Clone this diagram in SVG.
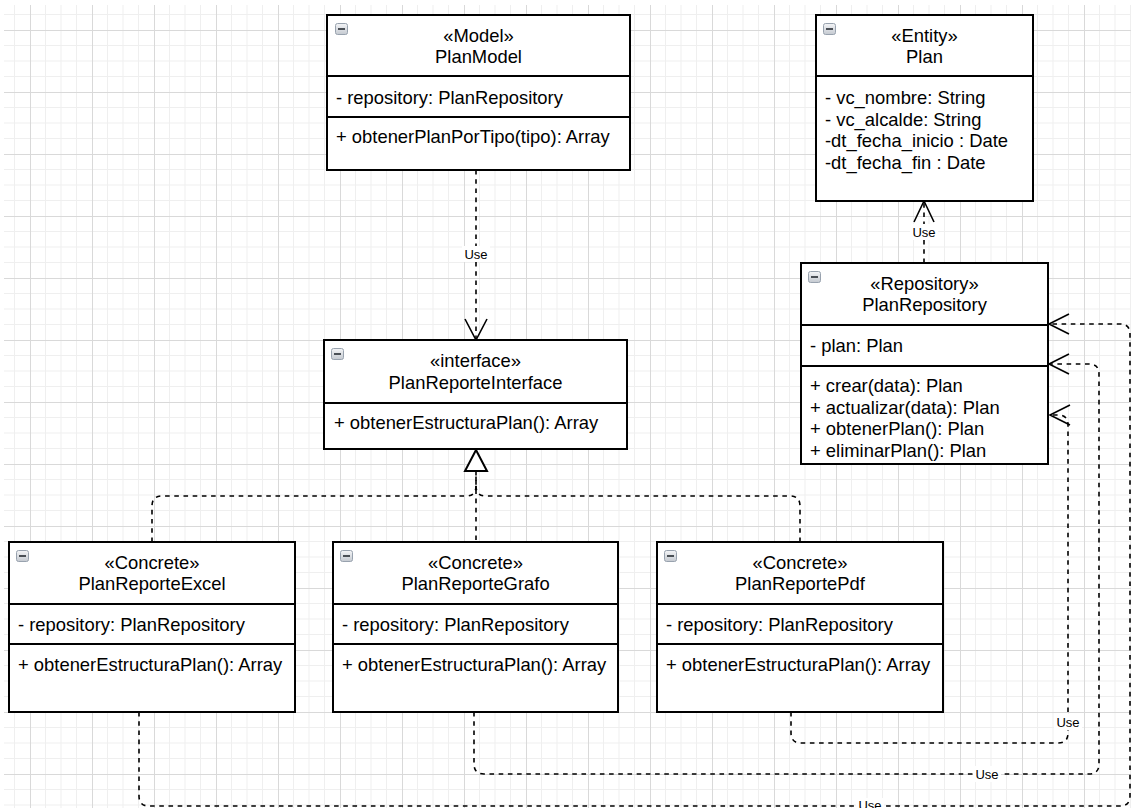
<svg xmlns="http://www.w3.org/2000/svg" width="1131" height="808" viewBox="0 0 1131 808">
  <style>
    .box { fill: #ffffff; stroke: #000000; stroke-width: 2; }
    .sep { stroke: #000000; stroke-width: 2; }
    .t { font-family: "Liberation Sans", Arial, sans-serif; font-size: 18.4px; fill: #000000; }
    .c { text-anchor: middle; }
    .lbl { font-family: "Liberation Sans", Arial, sans-serif; font-size: 13px; fill: #000000; text-anchor: middle; }
    .dash { fill: none; stroke: #000000; stroke-width: 1.6; stroke-dasharray: 4.6 4.6; }
    .head { fill: none; stroke: #000000; stroke-width: 1.6; }
    .tri { fill: #ffffff; stroke: #000000; stroke-width: 2; stroke-linejoin: miter; }
    .lblbg { fill: #ffffff; }
    .minor { stroke: #efefef; stroke-width: 1; }
    .major { stroke: #d9d9d9; stroke-width: 1; }
  </style>
  <defs>
    <pattern id="grid" x="30" y="30" width="62" height="62" patternUnits="userSpaceOnUse">
      <path class="minor" d="M15.5,0V62M31,0V62M46.5,0V62M0,15.5H62M0,31H62M0,46.5H62"/>
      <path class="major" d="M0.5,0V62M0,0.5H62"/>
    </pattern>
    <linearGradient id="btn" x1="0" y1="0" x2="0" y2="1">
      <stop offset="0" stop-color="#f4f5f7"/>
      <stop offset="1" stop-color="#c4c9d0"/>
    </linearGradient>
    <g id="collapse">
      <rect x="0.5" y="0.5" width="12" height="11" rx="2" fill="url(#btn)" stroke="#98a2ae" stroke-width="1"/>
      <path d="M3,6H10" stroke="#4a4f55" stroke-width="2"/>
    </g>
  </defs>

  <!-- canvas grid -->
  <rect x="0" y="0" width="1131" height="808" fill="#ffffff"/>
  <rect x="4" y="5" width="1127" height="803" fill="url(#grid)"/>

  <!-- connectors -->
  <g id="connectors">
    <!-- PlanModel uses PlanReporteInterface -->
    <path class="dash" d="M476,170V339"/>
    <path class="head" d="M465,319L476,340L487,319"/>
    <rect class="lblbg" x="462" y="246" width="28" height="16"/>
    <text class="lbl" x="476" y="259">Use</text>

    <!-- PlanRepository uses Plan -->
    <path class="dash" d="M924,263V202"/>
    <path class="head" d="M914,222L924,201L934,222"/>
    <rect class="lblbg" x="910" y="224" width="28" height="16"/>
    <text class="lbl" x="924" y="237">Use</text>

    <!-- realizations of PlanReporteInterface -->
    <path class="dash" d="M476,471V542"/>
    <path class="dash" d="M152,542V506Q152,496 162,496H466Q476,496 476,486V471"/>
    <path class="dash" d="M800,542V506Q800,496 790,496H486Q476,496 476,486"/>
    <path class="tri" d="M476,450L465,471H487Z"/>

    <!-- PlanReportePdf uses PlanRepository -->
    <path class="dash" d="M791,712V733Q791,743 801,743H1058Q1068,743 1068,733V425Q1068,415 1058,415H1051"/>
    <path class="head" d="M1070,405L1050,415L1070,425"/>
    <rect class="lblbg" x="1054" y="714" width="28" height="16"/>
    <text class="lbl" x="1068" y="727">Use</text>

    <!-- PlanReporteGrafo uses PlanRepository -->
    <path class="dash" d="M474,712V764Q474,774 484,774H1089Q1099,774 1099,764V374Q1099,364 1089,364H1050"/>
    <path class="head" d="M1069,354L1049,364L1069,374"/>
    <rect class="lblbg" x="973" y="766" width="28" height="16"/>
    <text class="lbl" x="987" y="779">Use</text>

    <!-- PlanReporteExcel uses PlanRepository -->
    <path class="dash" d="M139,712V796Q139,806 149,806H1120Q1130,806 1130,796V334Q1130,324 1120,324H1050"/>
    <path class="head" d="M1069,314L1049,324L1069,334"/>
    <rect class="lblbg" x="856" y="798" width="28" height="16"/>
    <text class="lbl" x="870" y="810">Use</text>
  </g>

  <!-- PlanModel -->
  <g id="PlanModel">
    <rect class="box" x="327" y="15" width="303" height="155"/>
    <path class="sep" d="M327,76H630M327,117H630"/>
    <use href="#collapse" x="335" y="23"/>
    <text class="t c" x="478.5" y="42">«Model»</text>
    <text class="t c" x="478.5" y="63">PlanModel</text>
    <text class="t" x="336" y="104">- repository: PlanRepository</text>
    <text class="t" x="336" y="143">+ obtenerPlanPorTipo(tipo): Array</text>
  </g>

  <!-- Plan -->
  <g id="Plan">
    <rect class="box" x="816" y="15" width="217" height="186"/>
    <path class="sep" d="M816,76H1033"/>
    <use href="#collapse" x="823" y="23"/>
    <text class="t c" x="924.5" y="42">«Entity»</text>
    <text class="t c" x="924.5" y="63">Plan</text>
    <text class="t" x="825" y="104">- vc_nombre: String</text>
    <text class="t" x="825" y="125.5">- vc_alcalde: String</text>
    <text class="t" x="825" y="147">-dt_fecha_inicio : Date</text>
    <text class="t" x="825" y="168.5">-dt_fecha_fin : Date</text>
  </g>

  <!-- PlanRepository -->
  <g id="PlanRepository">
    <rect class="box" x="801" y="263" width="247" height="201"/>
    <path class="sep" d="M801,325H1048M801,366H1048"/>
    <use href="#collapse" x="808" y="271"/>
    <text class="t c" x="924.5" y="290">«Repository»</text>
    <text class="t c" x="924.5" y="311">PlanRepository</text>
    <text class="t" x="810" y="352">- plan: Plan</text>
    <text class="t" x="810" y="392">+ crear(data): Plan</text>
    <text class="t" x="810" y="413.5">+ actualizar(data): Plan</text>
    <text class="t" x="810" y="435">+ obtenerPlan(): Plan</text>
    <text class="t" x="810" y="456.5">+ eliminarPlan(): Plan</text>
  </g>

  <!-- PlanReporteInterface -->
  <g id="PlanReporteInterface">
    <rect class="box" x="324" y="340" width="303" height="109"/>
    <path class="sep" d="M324,403H627"/>
    <use href="#collapse" x="331" y="348"/>
    <text class="t c" x="475.5" y="367">«interface»</text>
    <text class="t c" x="475.5" y="389">PlanReporteInterface</text>
    <text class="t" x="334" y="429">+ obtenerEstructuraPlan(): Array</text>
  </g>

  <!-- PlanReporteExcel -->
  <g id="PlanReporteExcel">
    <rect class="box" x="9" y="542" width="286" height="170"/>
    <path class="sep" d="M9,604H295M9,644H295"/>
    <use href="#collapse" x="16" y="550"/>
    <text class="t c" x="152" y="569">«Concrete»</text>
    <text class="t c" x="152" y="590">PlanReporteExcel</text>
    <text class="t" x="18" y="631">- repository: PlanRepository</text>
    <text class="t" x="18" y="671">+ obtenerEstructuraPlan(): Array</text>
  </g>

  <!-- PlanReporteGrafo -->
  <g id="PlanReporteGrafo">
    <rect class="box" x="333" y="542" width="285" height="170"/>
    <path class="sep" d="M333,604H618M333,644H618"/>
    <use href="#collapse" x="340" y="550"/>
    <text class="t c" x="475.5" y="569">«Concrete»</text>
    <text class="t c" x="475.5" y="590">PlanReporteGrafo</text>
    <text class="t" x="342" y="631">- repository: PlanRepository</text>
    <text class="t" x="342" y="671">+ obtenerEstructuraPlan(): Array</text>
  </g>

  <!-- PlanReportePdf -->
  <g id="PlanReportePdf">
    <rect class="box" x="657" y="542" width="286" height="170"/>
    <path class="sep" d="M657,604H943M657,644H943"/>
    <use href="#collapse" x="664" y="550"/>
    <text class="t c" x="800" y="569">«Concrete»</text>
    <text class="t c" x="800" y="590">PlanReportePdf</text>
    <text class="t" x="666" y="631">- repository: PlanRepository</text>
    <text class="t" x="666" y="671">+ obtenerEstructuraPlan(): Array</text>
  </g>
</svg>
